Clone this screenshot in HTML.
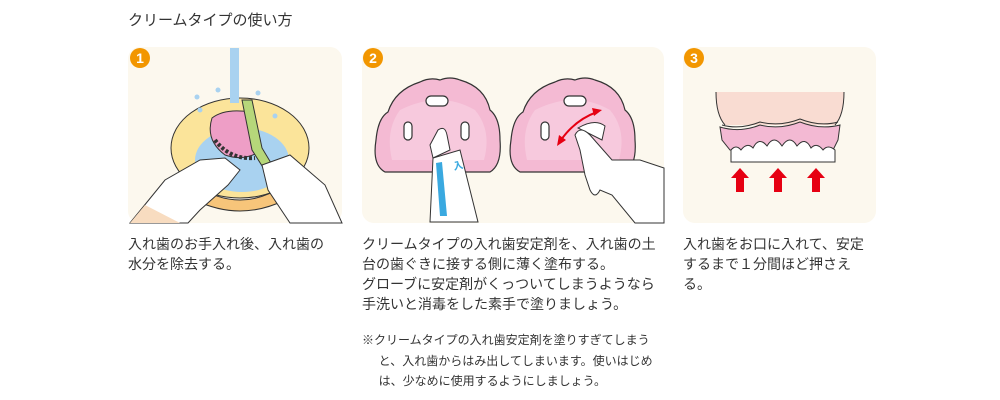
<!DOCTYPE html>
<html><head><meta charset="utf-8"><style>
body{margin:0;width:1000px;height:400px;background:#fff;position:relative;overflow:hidden;font-family:"Liberation Sans","Noto Sans CJK JP",sans-serif;color:#333}
.t{position:absolute;font-size:14px;line-height:20px;white-space:nowrap}
.n{position:absolute;font-size:12px;line-height:20.5px;white-space:nowrap}
svg{position:absolute;left:0;top:0}
</style></head><body>
<svg width="1000" height="400" viewBox="0 0 1000 400">
<rect x="128" y="47" width="214" height="176" rx="12" fill="#fcf8ee"/>
<rect x="362" y="47" width="302" height="176" rx="12" fill="#fcf8ee"/>
<rect x="683" y="47" width="193" height="176" rx="12" fill="#fcf8ee"/>
<!-- panel1 -->
<path d="M195 185 Q240 215 285 185 L285 200 Q240 222 195 200Z" fill="#f7c57a" stroke="#333"/>
<ellipse cx="240" cy="148" rx="69" ry="50" fill="#fbe49a" stroke="#333"/>
<ellipse cx="242" cy="160" rx="47" ry="32" fill="#a9d2f0"/>
<rect x="230" y="48" width="9" height="55" fill="#a9d2f0"/>
<g fill="#a9d2f0"><circle cx="197" cy="97" r="2.5"/><circle cx="218" cy="90" r="2.5"/><circle cx="258" cy="93" r="2.5"/><circle cx="275" cy="116" r="2.5"/><circle cx="200" cy="110" r="2.5"/></g>
<path d="M212 118 Q225 108 250 112 L262 150 Q245 162 225 155 Q205 140 212 118Z" fill="#ee9ec6" stroke="#333"/>
<path d="M215 140 Q230 160 255 158" stroke="#333" stroke-width="4" stroke-dasharray="3 2" fill="none"/>
<path d="M130 223 L165 180 L200 160 L225 158 L240 170 L228 185 L200 210 L188 223Z" fill="#fff" stroke="#333"/>
<path d="M130 223 L145 205 L180 223Z" fill="#f8dcc0"/>
<path d="M242 100 L252 150 L290 210 L298 208 L262 148 L252 100Z" fill="#b6d77a" stroke="#333"/>
<path d="M262 165 L290 155 L325 185 L342 223 L290 223 L268 190Z" fill="#fff" stroke="#333"/>
<circle cx="140" cy="58" r="10" fill="#f29600"/><text x="140" y="63" fill="#fff" font-size="14" font-weight="bold" text-anchor="middle" font-family="Liberation Sans">1</text>
<!-- panel2 dentures -->
<g stroke="#333" stroke-width="1.2">
<path d="M385 172 Q372 165 376 140 Q378 118 388 112 Q395 90 420 82 Q430 77 440 80 Q450 76 460 80 Q485 87 490 110 Q500 118 500 140 Q502 165 490 172Z" fill="#f4bad3"/>
<path d="M520 172 Q507 165 511 140 Q513 118 523 112 Q530 90 555 82 Q565 77 575 80 Q585 76 595 80 Q620 87 625 110 Q635 118 635 140 Q637 165 625 172Z" fill="#f4bad3"/>
</g>
<path d="M392 160 Q385 130 400 110 Q440 90 475 110 Q492 130 484 160Z" fill="#f7c9dd"/>
<path d="M527 160 Q520 130 535 110 Q575 90 610 110 Q627 130 619 160Z" fill="#f7c9dd"/>
<g fill="#fff" stroke="#333" stroke-width="1.2">
<rect x="426" y="96" width="22" height="10" rx="5"/><rect x="404" y="122" width="8" height="18" rx="4"/><rect x="461" y="122" width="8" height="18" rx="4"/>
<rect x="564" y="96" width="22" height="10" rx="5"/><rect x="541" y="122" width="8" height="18" rx="4"/>
</g>
<path d="M430 222 L433 158 L460 150 L478 222Z" fill="#fff" stroke="#333"/>
<path d="M436 163 L442 162 L447 216 L440 216Z" fill="#3aa9e0"/>
<text x="454" y="170" font-size="10" fill="#3aa9e0" font-weight="bold" transform="rotate(-12 454 170)">入</text>
<path d="M433 158 L430 145 L438 130 Q445 125 447 135 L450 150Z" fill="#fff" stroke="#333"/>
<path d="M561 140 Q575 120 597 112" stroke="#e60012" stroke-width="2" fill="none"/>
<path d="M557 146 L559 135 L566 140Z M602 110 L592 108 L594 116Z" fill="#e60012"/>
<path d="M578 128 Q595 118 605 126 L602 140 Z" fill="#fff" stroke="#333"/>
<path d="M575 135 Q580 125 590 135 L612 160 L640 160 L664 168 L664 223 L635 223 L612 195 L600 190 Q595 200 590 190 L585 175 L580 150Z" fill="#fff" stroke="#333"/>
<circle cx="373" cy="58" r="10" fill="#f29600"/><text x="373" y="63" fill="#fff" font-size="14" font-weight="bold" text-anchor="middle" font-family="Liberation Sans">2</text>
<!-- panel3 -->
<path d="M716 92 L844 92 Q844 115 835 125 L725 125 Q716 115 716 92Z" fill="#f9dcd2"/>
<path d="M716 92 Q716 115 725 125 M844 92 Q844 115 835 125" stroke="#333" fill="none"/>
<path d="M720 127 Q740 133 760 125 Q780 130 800 122 Q820 130 840 125 L838 140 L833 150 L730 150 L722 140Z" fill="#f3b9d3" stroke="#333"/>
<path d="M722 125 Q740 130 760 122 Q780 127 800 119 Q820 127 838 122" stroke="#333" fill="none"/>
<g fill="#fff" stroke="#333"><path d="M731 162 L731 150 Q736 144 741 150 Q747 142 753 148 Q759 136 767 146 Q774 134 782 146 Q790 134 797 146 Q805 136 811 148 Q817 142 823 150 Q828 144 835 150 L835 162Z"/></g>
<g fill="#e60012"><path d="M740 168 L749 178 L744 178 L744 192 L736 192 L736 178 L731 178Z"/><path d="M778 168 L787 178 L782 178 L782 192 L774 192 L774 178 L769 178Z"/><path d="M816 168 L825 178 L820 178 L820 192 L812 192 L812 178 L807 178Z"/></g>
<circle cx="694" cy="58" r="10" fill="#f29600"/><text x="694" y="63" fill="#fff" font-size="14" font-weight="bold" text-anchor="middle" font-family="Liberation Sans">3</text>
</svg>
<div class="t" style="left:128px;top:11px;font-size:15px">クリームタイプの使い方</div>
<div class="t" style="left:128px;top:234px">入れ歯のお手入れ後、入れ歯の<br>水分を除去する。</div>
<div class="t" style="left:362px;top:234px">クリームタイプの入れ歯安定剤を、入れ歯の土<br>台の歯ぐきに接する側に薄く塗布する。<br>グローブに安定剤がくっついてしまうようなら<br>手洗いと消毒をした素手で塗りましょう。</div>
<div class="n" style="left:362px;top:330px">※クリームタイプの入れ歯安定剤を塗りすぎてしまう<br>&nbsp;&nbsp;&nbsp;&nbsp;&nbsp;と、入れ歯からはみ出してしまいます。使いはじめ<br>&nbsp;&nbsp;&nbsp;&nbsp;&nbsp;は、少なめに使用するようにしましょう。</div>
<div class="t" style="left:683px;top:234px">入れ歯をお口に入れて、安定<br>するまで１分間ほど押さえ<br>る。</div>
</body></html>
